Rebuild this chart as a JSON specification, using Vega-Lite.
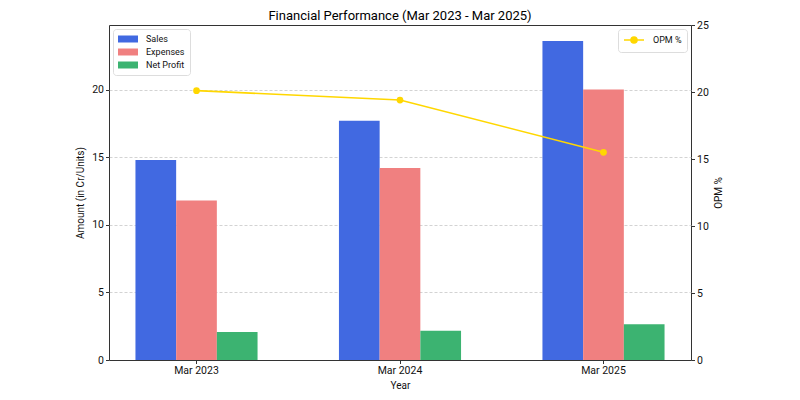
{
  "$schema": "https://vega.github.io/schema/vega-lite/v6.json",
  "width": 582,
  "height": 335,
  "autosize": {"type": "none"},
  "padding": {"left": 109, "top": 25, "right": 109, "bottom": 40},
  "title": {
    "text": "Financial Performance (Mar 2023 - Mar 2025)",
    "fontSize": 13,
    "fontWeight": "normal",
    "color": "#000",
    "anchor": "middle",
    "offset": -3
  },
  "config": {
    "font": "Roboto",
    "view": {"stroke": "#333", "strokeWidth": 1},
    "axis": {
      "domain": false,
      "tickColor": "#333",
      "tickSize": 3.5,
      "labelColor": "#111",
      "labelFontSize": 10.5,
      "labelPadding": 2,
      "titleColor": "#111",
      "titleFontSize": 10,
      "titleFontWeight": "normal"
    },
    "legend": {
      "fillColor": "#fff",
      "strokeColor": "#ddd",
      "cornerRadius": 3,
      "padding": 5,
      "offset": 4,
      "labelFontSize": 9,
      "labelColor": "#111",
      "labelOffset": 13,
      "symbolOffset": 5,
      "rowPadding": 3,
      "symbolStrokeWidth": 0,
      "symbolOpacity": 1
    }
  },
  "datasets": {
    "bars": [
      {"year": "Mar 2023", "metric": "Sales", "amount": 14.8},
      {"year": "Mar 2023", "metric": "Expenses", "amount": 11.8},
      {"year": "Mar 2023", "metric": "Net Profit", "amount": 2.07},
      {"year": "Mar 2024", "metric": "Sales", "amount": 17.7},
      {"year": "Mar 2024", "metric": "Expenses", "amount": 14.2},
      {"year": "Mar 2024", "metric": "Net Profit", "amount": 2.17},
      {"year": "Mar 2025", "metric": "Sales", "amount": 23.6},
      {"year": "Mar 2025", "metric": "Expenses", "amount": 20.0},
      {"year": "Mar 2025", "metric": "Net Profit", "amount": 2.64}
    ],
    "opm": [
      {"year": "Mar 2023", "series": "OPM %", "opm": 20.1},
      {"year": "Mar 2024", "series": "OPM %", "opm": 19.4},
      {"year": "Mar 2025", "series": "OPM %", "opm": 15.5}
    ]
  },
  "layer": [
    {
      "data": {"name": "bars"},
      "mark": {"type": "bar"},
      "encoding": {
        "x": {
          "field": "year",
          "type": "nominal",
          "title": "Year",
          "scale": {"paddingInner": 0.4, "paddingOuter": 0.13},
          "axis": {"labelAngle": 0, "titlePadding": 4}
        },
        "xOffset": {
          "field": "metric",
          "type": "nominal",
          "sort": ["Sales", "Expenses", "Net Profit"],
          "scale": {"paddingInner": 0, "paddingOuter": 0}
        },
        "y": {
          "field": "amount",
          "type": "quantitative",
          "title": "Amount (in Cr/Units)",
          "scale": {"domain": [0, 24.78], "nice": false, "zero": true},
          "axis": {
            "values": [0, 5, 10, 15, 20],
            "grid": true,
            "gridColor": "#c8c8c8",
            "gridDash": [3, 2],
            "gridWidth": 0.8,
            "gridOpacity": {"condition": {"test": "datum.value === 0", "value": 0}, "value": 1},
            "titlePadding": 6
          }
        },
        "color": {
          "field": "metric",
          "type": "nominal",
          "sort": ["Sales", "Expenses", "Net Profit"],
          "scale": {
            "domain": ["Sales", "Expenses", "Net Profit"],
            "range": ["#4169E1", "#F08080", "#3CB371"]
          },
          "legend": {
            "title": null,
            "orient": "top-left",
            "symbolType": "M-2,-0.7L2,-0.7L2,0.7L-2,0.7Z",
            "symbolSize": 100
          }
        }
      }
    },
    {
      "data": {"name": "opm"},
      "mark": {
        "type": "line",
        "strokeWidth": 1.6,
        "point": {"filled": true, "size": 45}
      },
      "encoding": {
        "x": {"field": "year", "type": "nominal"},
        "y": {
          "field": "opm",
          "type": "quantitative",
          "title": "OPM %",
          "scale": {"domain": [0, 25], "nice": false, "zero": true},
          "axis": {
            "orient": "right",
            "values": [0, 5, 10, 15, 20, 25],
            "grid": false,
            "titleAngle": 270,
            "titleBaseline": "bottom",
            "titlePadding": 15
          }
        },
        "color": {
          "field": "series",
          "type": "nominal",
          "scale": {"domain": ["OPM %"], "range": ["#FFD700"]},
          "legend": {
            "title": null,
            "orient": "top-right",
            "symbolType": "M-2,0L2,0M-0.6,0A0.6,0.6 0 1,1 0.6,0A0.6,0.6 0 1,1 -0.6,0Z",
            "symbolSize": 100,
            "symbolStrokeWidth": 1.6,
            "symbolStrokeColor": "#FFD700",
            "symbolFillColor": "#FFD700"
          }
        }
      }
    }
  ],
  "resolve": {"scale": {"y": "independent", "color": "independent"}}
}
